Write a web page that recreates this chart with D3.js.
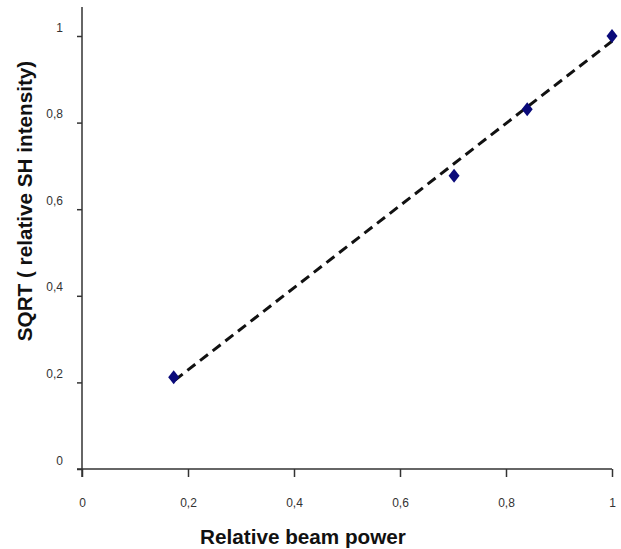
<!DOCTYPE html>
<html>
<head>
<meta charset="utf-8">
<script src="https://cdn.jsdelivr.net/npm/d3@7"></script>
<style>
  body { margin: 0; background: #fff; }
  svg { display: block; font-family: "Liberation Sans", Arial, sans-serif; }
</style>
</head>
<body>
<svg id="chart" width="621" height="549"></svg>
<script>
// data
const beamPower = [0.173, 0.702, 0.84, 1.0];
const sqrtSH = [0.212, 0.677, 0.831, 1.0];
// dashed trend line, two ends
const trendX = [0.175, 1.0];
const trendY = [0.205, 0.988];
const tickVals = [0, 0.2, 0.4, 0.6, 0.8, 1];
const xTitle = 'Relative beam power';
const yTitle = 'SQRT ( relative SH intensity)';

const svg = d3.select('#chart');

const x = d3.scaleLinear().domain([0, 1]).range([82, 612]);
const y = d3.scaleLinear().domain([0, 1]).range([469, 36]);
const fmt = d => String(d).replace('.', ',');
const axisCol = '#333';

//-------------axes------------------
const gx = svg.append('g').attr('transform', `translate(0,${y(0)})`)
  .call(d3.axisBottom(x).tickValues(tickVals).tickFormat(fmt).tickSize(8).tickSizeOuter(0));
gx.select('.domain').remove();
gx.selectAll('line').attr('stroke', axisCol).attr('stroke-width', 1.5);
gx.selectAll('text').attr('font-size', 12).attr('fill', '#333')
  .attr('font-family', 'inherit').attr('y', 38).attr('dy', 0);

const gy = svg.append('g').attr('transform', `translate(${x(0)},0)`)
  .call(d3.axisLeft(y).tickValues(tickVals).tickFormat(fmt).tickSize(5).tickSizeOuter(0));
gy.select('.domain').remove();
gy.selectAll('line').attr('stroke', axisCol).attr('stroke-width', 1.5);
gy.selectAll('text').attr('font-size', 12).attr('fill', '#333')
  .attr('font-family', 'inherit').attr('x', -19).attr('y', -5).attr('dy', 0);

// axis lines cross at the origin, like the original
svg.append('line').attr('x1', x(0) - 5).attr('x2', x(1))
  .attr('y1', y(0)).attr('y2', y(0))
  .attr('stroke', axisCol).attr('stroke-width', 1.5);
svg.append('line').attr('x1', x(0)).attr('x2', x(0))
  .attr('y1', y(0) + 8).attr('y2', y(1.067))
  .attr('stroke', axisCol).attr('stroke-width', 1.5);

//-------------trend + points------------------
svg.append('path')
  .datum(d3.zip(trendX, trendY))
  .attr('d', d3.line().x(d => x(d[0])).y(d => y(d[1])))
  .attr('fill', 'none').attr('stroke', '#111')
  .attr('stroke-width', 3).attr('stroke-dasharray', '10,6');

svg.append('g').selectAll('path')
  .data(d3.zip(beamPower, sqrtSH))
  .enter().append('path')
  .attr('transform', d => `translate(${x(d[0])},${y(d[1])})`)
  .attr('d', 'M0,-7L5.5,0L0,7L-5.5,0Z')
  .attr('fill', '#0a0a7a');

//-------------titles------------------
svg.append('text').text(xTitle)
  .attr('x', 303).attr('y', 544)
  .attr('text-anchor', 'middle')
  .attr('font-size', 20.7).attr('font-weight', 'bold').attr('fill', '#111');

svg.append('text').text(yTitle)
  .attr('transform', 'translate(32,201) rotate(-90)')
  .attr('text-anchor', 'middle')
  .attr('font-size', 20.7).attr('font-weight', 'bold').attr('fill', '#111');
</script>
</body>
</html>
